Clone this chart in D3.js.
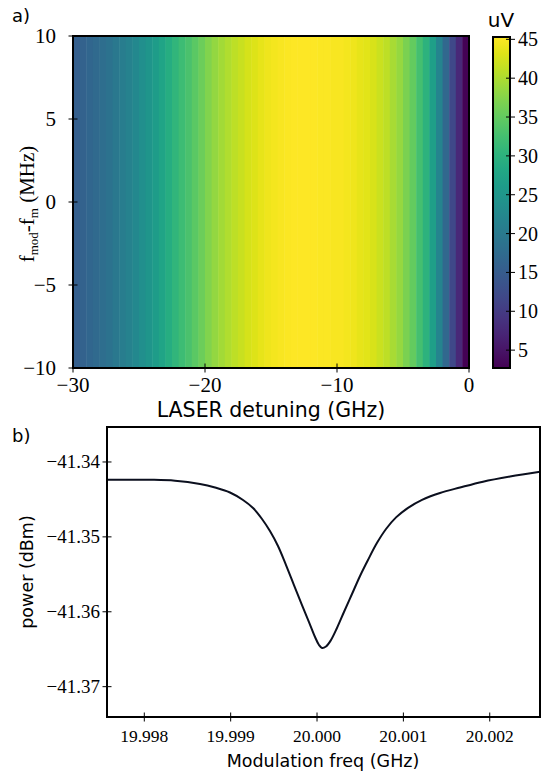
<!DOCTYPE html>
<html><head><meta charset="utf-8">
<script src="https://cdn.jsdelivr.net/npm/d3@7"></script>
<style>body{margin:0;background:#fff}svg{display:block}</style>
</head><body>
<script>
// ---- Panel a data: heatmap columns (cell centres in GHz, value in uV) ----
const detuning = [-29.75,-29.25,-28.75,-28.25,-27.75,-27.25,-26.75,-26.25,-25.75,-25.25,
  -24.75,-24.25,-23.75,-23.25,-22.75,-22.25,-21.75,-21.25,-20.75,-20.25,
  -19.75,-19.25,-18.75,-18.25,-17.75,-17.25,-16.75,-16.25,-15.75,-15.25,
  -14.75,-14.25,-13.75,-13.25,-12.75,-12.25,-11.75,-11.25,-10.75,-10.25,
  -9.75,-9.25,-8.75,-8.25,-7.75,-7.25,-6.75,-6.25,-5.75,-5.25,
  -4.75,-4.25,-3.75,-3.25,-2.75,-2.25,-1.75,-1.25,-0.75,-0.25];
const signal = [15.5,16.0,16.6,17.3,18.0,18.8,19.7,20.6,21.6,22.6,
  23.7,24.9,26.1,27.5,29.0,30.6,31.9,33.1,34.4,35.8,
  37.2,38.4,39.4,40.3,41.1,41.8,42.5,43.1,43.7,44.2,
  44.6,44.9,45.1,45.2,45.3,45.3,45.2,45.1,45.0,44.95,
  44.9,44.6,44.2,43.8,43.4,42.7,41.9,41.0,39.8,38.5,
  36.8,35.0,32.5,30.0,26.5,22.0,17.0,12.0,7.5,2.7];
const cellWidth = 0.5;
const aXTicks = [-30,-20,-10,0];
const aYTicks = [-10,-5,0,5,10];
const cbTicks = [5,10,15,20,25,30,35,40,45];
const cbDomain = [2.7,45.3];

// ---- Panel b data: power vs modulation frequency ----
const freq = [19.997568,19.998066,19.998355,19.998645,19.998819,19.998992,19.999143,19.999259,19.999363,19.999455,
  19.999548,19.999641,19.999733,19.999826,19.999907,19.999977,20.000023,20.000058,20.000104,20.000162,
  20.000231,20.000312,20.000405,20.000498,20.000590,20.000695,20.000799,20.000915,20.001054,20.001216,
  20.001424,20.001656,20.001922,20.002235,20.002582];
const power = [-41.34237,-41.34238,-41.34250,-41.34294,-41.34341,-41.34408,-41.34508,-41.34615,-41.34761,-41.34922,
  -41.35122,-41.35376,-41.35643,-41.35910,-41.36137,-41.36337,-41.36444,-41.36484,-41.36464,-41.36377,
  -41.36217,-41.36003,-41.35763,-41.35522,-41.35309,-41.35080,-41.34895,-41.34740,-41.34612,-41.34505,
  -41.34414,-41.34341,-41.34263,-41.34194,-41.34130];
const bXTicks = [19.998,19.999,20.000,20.001,20.002];
const bYTicks = [-41.34,-41.35,-41.36,-41.37];

const W=551,H=775;
const svg = d3.select("body").append("svg").attr("width",W).attr("height",H);
const serif = "'Liberation Serif','DejaVu Serif',serif";
const sans = "'DejaVu Sans',sans-serif";
const minus = s => s.replace("-","\u2212");

// ===== Panel a =====
const ax = d3.scaleLinear().domain([-30,0]).range([73,469]);
const ay = d3.scaleLinear().domain([-10,10]).range([368,36]);
const color = d3.scaleSequential(d3.interpolateViridis).domain(cbDomain);

const ga = svg.append("g");
ga.selectAll("rect.cell").data(detuning).join("rect")
  .attr("x", d => ax(d - cellWidth/2))
  .attr("width", d => ax(d + cellWidth/2) - ax(d - cellWidth/2) + 0.5)
  .attr("y", ay(10)).attr("height", ay(-10)-ay(10))
  .attr("fill", (d,i) => color(signal[i]));
ga.append("rect").attr("x",ax(-30)).attr("y",ay(10)).attr("width",ax(0)-ax(-30)).attr("height",ay(-10)-ay(10))
  .attr("fill","none").attr("stroke","#000").attr("stroke-width",2);

ga.selectAll("line.xt").data(aXTicks).join("line")
  .attr("x1",d=>ax(d)).attr("x2",d=>ax(d)).attr("y1",ay(-10)-4.5).attr("y2",ay(-10)+4.5)
  .attr("stroke","#000").attr("stroke-width",1);
ga.selectAll("text.xt").data(aXTicks).join("text")
  .attr("x",d=>ax(d)).attr("y",ay(-10)+24).attr("text-anchor","middle")
  .style("font-family",serif).style("font-size","21px").text(d=>minus(String(d)));
ga.selectAll("line.yt").data(aYTicks).join("line")
  .attr("x1",ax(-30)-4.5).attr("x2",ax(-30)+4.5).attr("y1",d=>ay(d)).attr("y2",d=>ay(d))
  .attr("stroke","#000").attr("stroke-width",1);
ga.selectAll("text.yt").data(aYTicks).join("text")
  .attr("x",ax(-30)-17).attr("y",d=>ay(d)+7).attr("text-anchor","end")
  .style("font-family",serif).style("font-size","21px").text(d=>minus(String(d)));

ga.append("text").attr("x",(ax(-30)+ax(0))/2).attr("y",417).attr("text-anchor","middle")
  .style("font-family",sans).style("font-size","20.5px").text("LASER detuning (GHz)");
const yl = ga.append("text").attr("transform",`translate(34,${ay(0)+2}) rotate(-90)`).attr("text-anchor","middle")
  .style("font-family",serif).style("font-size","21px");
yl.append("tspan").text("f");
yl.append("tspan").attr("dy",4).style("font-size","13px").text("mod");
yl.append("tspan").attr("dy",-4).text("-f");
yl.append("tspan").attr("dy",4).style("font-size","13px").text("m");
yl.append("tspan").attr("dy",-4).text(" (MHz)");

svg.append("text").attr("x",12).attr("y",22).style("font-family",sans).style("font-size","18px").text("a)");

// colorbar
const cy = d3.scaleLinear().domain(cbDomain).range([368,37]);
const defs = svg.append("defs");
const grad = defs.append("linearGradient").attr("id","cbg").attr("x1",0).attr("x2",0).attr("y1",1).attr("y2",0);
d3.range(0,1.0001,0.05).forEach(t=>grad.append("stop").attr("offset",t).attr("stop-color",d3.interpolateViridis(t)));
svg.append("rect").attr("x",493).attr("y",37).attr("width",17).attr("height",331)
  .attr("fill","url(#cbg)").attr("stroke","#000").attr("stroke-width",2);
svg.selectAll("line.cbt").data(cbTicks).join("line")
  .attr("x1",506).attr("x2",515).attr("y1",d=>cy(d)).attr("y2",d=>cy(d)).attr("stroke","#000");
svg.selectAll("text.cbt").data(cbTicks).join("text")
  .attr("x",518).attr("y",d=>cy(d)+7).style("font-family",serif).style("font-size","20px").text(d=>d);
svg.append("text").attr("x",501).attr("y",27).attr("text-anchor","middle")
  .style("font-family",sans).style("font-size","20px").text("uV");

// ===== Panel b =====
const bx = d3.scaleLinear().domain([19.997568,20.002582]).range([107,540]);
const by = d3.scaleLinear().domain([-41.37405,-41.33533]).range([717,427]);
const gb = svg.append("g");
gb.append("path").datum(freq.map((f,i)=>[f,power[i]]))
  .attr("d", d3.line().x(d=>bx(d[0])).y(d=>by(d[1])).curve(d3.curveCatmullRom.alpha(0.5)))
  .attr("fill","none").attr("stroke","#0b0f1e").attr("stroke-width",2);
gb.append("rect").attr("x",107).attr("y",427).attr("width",433).attr("height",290)
  .attr("fill","none").attr("stroke","#000").attr("stroke-width",2);
gb.selectAll("line.xt").data(bXTicks).join("line")
  .attr("x1",d=>bx(d)).attr("x2",d=>bx(d)).attr("y1",717-4.5).attr("y2",717+4.5).attr("stroke","#000");
gb.selectAll("text.xt").data(bXTicks).join("text")
  .attr("x",d=>bx(d)).attr("y",742).attr("text-anchor","middle")
  .style("font-family",serif).style("font-size","17.5px").text(d=>d.toFixed(3));
gb.selectAll("line.yt").data(bYTicks).join("line")
  .attr("x1",107-4.5).attr("x2",107+4.5).attr("y1",d=>by(d)).attr("y2",d=>by(d)).attr("stroke","#000");
gb.selectAll("text.yt").data(bYTicks).join("text")
  .attr("x",100).attr("y",d=>by(d)+6).attr("text-anchor","end")
  .style("font-family",serif).style("font-size","19px").text(d=>minus(d.toFixed(2)));
gb.append("text").attr("x",323).attr("y",767).attr("text-anchor","middle")
  .style("font-family",sans).style("font-size","17.5px").text("Modulation freq (GHz)");
gb.append("text").attr("transform",`translate(33,572) rotate(-90)`).attr("text-anchor","middle")
  .style("font-family",sans).style("font-size","17.5px").text("power (dBm)");
svg.append("text").attr("x",12).attr("y",442).style("font-family",sans).style("font-size","18px").text("b)");
</script>
</body></html>
